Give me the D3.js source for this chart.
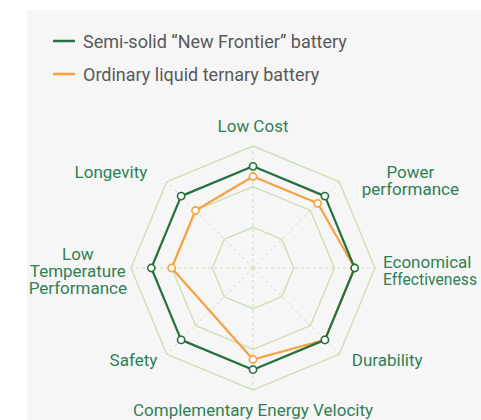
<!DOCTYPE html>
<html>
<head>
<meta charset="utf-8">
<script src="https://cdn.jsdelivr.net/npm/d3@7"></script>
<style>
  html, body { margin: 0; padding: 0; background: #ffffff; }
  svg { display: block; }
</style>
</head>
<body>
<div id="content"></div>
<script>
// ******* DATA *******
const axisNames = ["Low Cost", "Power performance", "Economical Effectiveness", "Durability",
    "Complementary Energy Velocity", "Safety", "Low Temperature Performance", "Longevity"];
// how each axis name is broken over lines
const axisLabelLines = [["Low Cost"], ["Power", "performance"], ["Economical", "Effectiveness"], ["Durability"],
    ["Complementary Energy Velocity"], ["Safety"], ["Low", "Temperature", "Performance"], ["Longevity"]];
const seriesNames = ["Semi-solid \u201cNew Frontier\u201d battery", "Ordinary liquid ternary battery"];
const semiSolidValues = [100, 100, 100, 100, 100, 100, 100, 100];
const liquidValues = [90, 90, 100, 100, 90, null, 80, 80];   // no Safety value for the liquid battery
const ringLevels = [40, 80, 120];
const maxValue = 120;

// ******* LAYOUT *******
const width = 481, height = 420;
const cx = 253, cy = 268, radius = 122;
const colors = ["#24703f", "#f7a13f"];
const fontFamily = "Roboto, sans-serif";
// small hand tweaks of the axis-name blocks [dx, dy]
const labelNudges = [[0, 0], [14, 7], [-4, 2], [4, -3], [0, -1], [-1, -3], [8, 3], [-11, -1]];

const svg = d3.select("#content").append("svg")
    .attr("width", width)
    .attr("height", height);

// grey panel
svg.append("rect")
    .attr("x", 27).attr("y", 10)
    .attr("width", width - 27).attr("height", height - 10)
    .attr("fill", "#f6f6f6");

const r = d3.scaleLinear().domain([0, maxValue]).range([0, radius]);
const angle = d3.scalePoint().domain(d3.range(axisNames.length)).range([0, 2 * Math.PI * (1 - 1 / axisNames.length)]);

const g = svg.append("g").attr("transform", `translate(${cx},${cy})`);

// ring polygons
const ringLine = d3.lineRadial().curve(d3.curveLinearClosed);
g.append("g").selectAll("path")
    .data(ringLevels)
    .join("path")
    .attr("d", lv => ringLine(axisNames.map((_, i) => [angle(i), r(lv)])))
    .attr("fill", "none")
    .attr("stroke", "#cfe0bb")
    .attr("stroke-width", 1.5);

// dashed spokes
g.append("g").selectAll("line")
    .data(axisNames)
    .join("line")
    .attr("x1", 0).attr("y1", 0)
    .attr("x2", (d, i) => Math.sin(angle(i)) * r(maxValue))
    .attr("y2", (d, i) => -Math.cos(angle(i)) * r(maxValue))
    .attr("stroke", "#cfe0bb")
    .attr("stroke-width", 1)
    .attr("stroke-dasharray", "3,3");

// series (orange below green)
const seriesData = [semiSolidValues, liquidValues];
const drawOrder = [1, 0];
drawOrder.forEach(s => {
    const pts = seriesData[s]
        .map((v, i) => ({ v, i }))
        .filter(d => d.v != null);
    const sg = g.append("g");
    sg.append("path")
        .attr("d", ringLine(pts.map(d => [angle(d.i), r(d.v)])))
        .attr("fill", "none")
        .attr("stroke", colors[s])
        .attr("stroke-width", 2.2)
        .attr("stroke-linejoin", "round");
    sg.selectAll("circle")
        .data(pts)
        .join("circle")
        .attr("cx", d => Math.sin(angle(d.i)) * r(d.v))
        .attr("cy", d => -Math.cos(angle(d.i)) * r(d.v))
        .attr("r", 3.6)
        .attr("fill", "#ffffff")
        .attr("stroke", colors[s])
        .attr("stroke-width", 1.6);
});

// axis labels, one text element per line
const labelGap = 12;
const lineHeight = 17;
const fontSize = 17;
axisLabelLines.forEach((lines, i) => {
    const a = angle(i);
    const dx = Math.sin(a), dy = -Math.cos(a);
    let bx = dx * (radius + labelGap) + labelNudges[i][0];
    let by = dy * (radius + labelGap) + labelNudges[i][1];
    // right-hand horizontal name is left aligned, the others centred
    const leftAligned = dx > 0.9;
    const lg = g.append("g");
    const texts = lines.map((ln, k) => lg.append("text")
        .attr("font-family", fontFamily)
        .attr("font-size", fontSize)
        .attr("fill", "#2f8055")
        .attr("text-anchor", leftAligned ? "start" : "middle")
        .attr("y", k * lineHeight)
        .text(ln));
    // shrink a left-aligned line that would run past the right edge
    if (leftAligned) {
        const room = width - 4 - (cx + bx);
        texts.forEach(t => {
            const len = t.node().getComputedTextLength();
            if (len > room) t.attr("font-size", fontSize * room / len);
        });
    }
    const w = d3.max(texts, t => t.node().getComputedTextLength());
    const h = lines.length * lineHeight;
    if (Math.abs(dx) > 0.01) bx += leftAligned ? 0 : Math.sign(dx) * w / 2;
    else by += Math.sign(dy) * h / 2;
    const firstBaseline = by - h / 2 + 14.5;
    lg.attr("transform", `translate(${bx},${firstBaseline})`);
});

// legend
const legend = svg.append("g");
seriesNames.forEach((name, i) => {
    const y = 41 + i * 33;
    legend.append("line")
        .attr("x1", 53).attr("x2", 75)
        .attr("y1", y).attr("y2", y)
        .attr("stroke", colors[i])
        .attr("stroke-width", 2.5);
    legend.append("text")
        .attr("x", 83).attr("y", y + 6.5)
        .attr("font-family", fontFamily)
        .attr("font-size", 18)
        .attr("fill", "#595959")
        .text(name);
});
</script>
</body>
</html>
